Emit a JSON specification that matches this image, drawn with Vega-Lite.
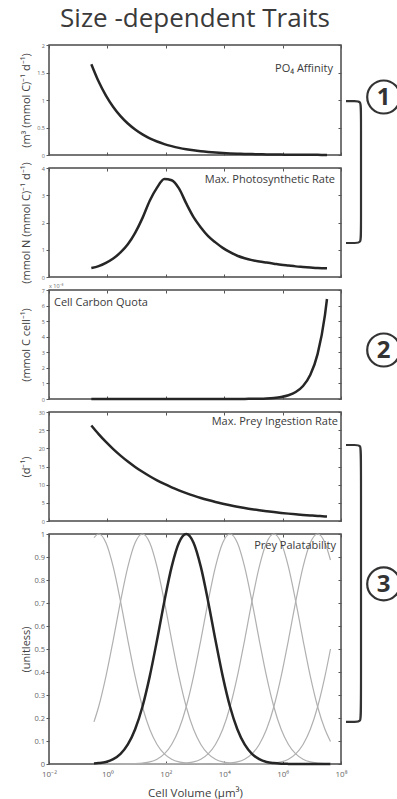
{
"$schema": "https://vega.github.io/schema/vega-lite/v6.json",
"padding": {"left": 19, "top": 6, "right": 0, "bottom": 0},
"background": "white",
"title": {"text": "Size -dependent Traits", "font": "Open Sans", "fontSize": 26, "fontWeight": "normal", "color": "#3a3a3a", "anchor": "middle", "frame": "group", "offset": 10},
"spacing": 13,
"bounds": "flush",
"datasets": {
"curves": [
{"v":0.2818,"a":1.65,"m":0.33,"q":0,"g":26.3},
{"v":0.5012,"a":1.335,"m":0.4,"q":0,"g":23.92},
{"v":0.8913,"a":1.08,"m":0.52,"q":0,"g":21.76},
{"v":1.585,"a":0.874,"m":0.68,"q":0,"g":19.79},
{"v":2.818,"a":0.707,"m":0.9,"q":0,"g":18.0},
{"v":5.012,"a":0.572,"m":1.2,"q":0,"g":16.37},
{"v":8.913,"a":0.463,"m":1.62,"q":0,"g":14.89},
{"v":15.85,"a":0.375,"m":2.16,"q":0,"g":13.54},
{"v":28.18,"a":0.303,"m":2.8,"q":0,"g":12.31},
{"v":50.12,"a":0.245,"m":3.28,"q":0,"g":11.2},
{"v":89.13,"a":0.198,"m":3.6,"q":0,"g":10.19},
{"v":158.5,"a":0.161,"m":3.55,"q":0,"g":9.26},
{"v":281.8,"a":0.13,"m":3.25,"q":0,"g":8.43},
{"v":501.2,"a":0.105,"m":2.7,"q":0,"g":7.66},
{"v":891.3,"a":0.085,"m":2.2,"q":0.0001,"g":6.97},
{"v":1585,"a":0.069,"m":1.82,"q":0.0002,"g":6.34},
{"v":2818,"a":0.056,"m":1.5,"q":0.0003,"g":5.77},
{"v":5012,"a":0.045,"m":1.27,"q":0.0005,"g":5.24},
{"v":8913,"a":0.036,"m":1.07,"q":0.0009,"g":4.77},
{"v":15849,"a":0.029,"m":0.91,"q":0.0017,"g":4.34},
{"v":28184,"a":0.024,"m":0.78,"q":0.0031,"g":3.95},
{"v":50119,"a":0.019,"m":0.69,"q":0.0058,"g":3.59},
{"v":89125,"a":0.016,"m":0.62,"q":0.0108,"g":3.26},
{"v":158489,"a":0.013,"m":0.57,"q":0.02,"g":2.97},
{"v":281838,"a":0.01,"m":0.53,"q":0.0373,"g":2.7},
{"v":501187,"a":0.008,"m":0.49,"q":0.0695,"g":2.45},
{"v":891251,"a":0.007,"m":0.45,"q":0.1294,"g":2.23},
{"v":1584893,"a":0.005,"m":0.42,"q":0.2409,"g":2.03},
{"v":2818383,"a":0.004,"m":0.39,"q":0.4485,"g":1.85},
{"v":5011872,"a":0.0035,"m":0.37,"q":0.835,"g":1.68},
{"v":8912509,"a":0.0028,"m":0.35,"q":1.555,"g":1.53},
{"v":15848932,"a":0.0023,"m":0.33,"q":2.895,"g":1.39},
{"v":28183829,"a":0.0019,"m":0.32,"q":5.39,"g":1.26},
{"v":33113112,"a":0.0017,"m":0.32,"q":6.42,"g":1.23}
],
"pal": [
{"c":"c0","v":0.3467,"p":0.984},{"c":"c0","v":0.5012,"p":1},{"c":"c0","v":0.8913,"p":0.962},{"c":"c0","v":1.585,"p":0.857},{"c":"c0","v":2.818,"p":0.707},{"c":"c0","v":5.012,"p":0.539},{"c":"c0","v":8.913,"p":0.381},{"c":"c0","v":15.85,"p":0.249},{"c":"c0","v":28.18,"p":0.151},{"c":"c0","v":50.12,"p":0.085},{"c":"c0","v":89.13,"p":0.044},{"c":"c0","v":158.5,"p":0.021},{"c":"c0","v":281.8,"p":0.009},{"c":"c0","v":501.2,"p":0.004},{"c":"c0","v":891.3,"p":0.0015},{"c":"c0","v":1585,"p":0.0005},{"c":"c0","v":2818,"p":0},{"c":"c0","v":43651583,"p":0},
{"c":"c1","v":0.3467,"p":0.183},{"c":"c1","v":0.5012,"p":0.249},{"c":"c1","v":0.8913,"p":0.381},{"c":"c1","v":1.585,"p":0.539},{"c":"c1","v":2.818,"p":0.707},{"c":"c1","v":5.012,"p":0.857},{"c":"c1","v":8.913,"p":0.962},{"c":"c1","v":15.85,"p":1},{"c":"c1","v":28.18,"p":0.962},{"c":"c1","v":50.12,"p":0.857},{"c":"c1","v":89.13,"p":0.707},{"c":"c1","v":158.5,"p":0.539},{"c":"c1","v":281.8,"p":0.381},{"c":"c1","v":501.2,"p":0.249},{"c":"c1","v":891.3,"p":0.151},{"c":"c1","v":1585,"p":0.085},{"c":"c1","v":2818,"p":0.044},{"c":"c1","v":5012,"p":0.021},{"c":"c1","v":8913,"p":0.009},{"c":"c1","v":15849,"p":0.004},{"c":"c1","v":28184,"p":0.0015},{"c":"c1","v":50119,"p":0.0005},{"c":"c1","v":89125,"p":0},{"c":"c1","v":43651583,"p":0},
{"c":"c3","v":0.3467,"p":0},{"c":"c3","v":2.818,"p":0},{"c":"c3","v":5.012,"p":0.0005},{"c":"c3","v":8.913,"p":0.0015},{"c":"c3","v":15.85,"p":0.004},{"c":"c3","v":28.18,"p":0.009},{"c":"c3","v":50.12,"p":0.021},{"c":"c3","v":89.13,"p":0.044},{"c":"c3","v":158.5,"p":0.085},{"c":"c3","v":281.8,"p":0.151},{"c":"c3","v":501.2,"p":0.249},{"c":"c3","v":891.3,"p":0.381},{"c":"c3","v":1585,"p":0.539},{"c":"c3","v":2818,"p":0.707},{"c":"c3","v":5012,"p":0.857},{"c":"c3","v":8913,"p":0.962},{"c":"c3","v":15849,"p":1},{"c":"c3","v":28184,"p":0.962},{"c":"c3","v":50119,"p":0.857},{"c":"c3","v":89125,"p":0.707},{"c":"c3","v":158489,"p":0.539},{"c":"c3","v":281838,"p":0.381},{"c":"c3","v":501187,"p":0.249},{"c":"c3","v":891251,"p":0.151},{"c":"c3","v":1584893,"p":0.085},{"c":"c3","v":2818383,"p":0.044},{"c":"c3","v":5011872,"p":0.021},{"c":"c3","v":8912509,"p":0.009},{"c":"c3","v":15848932,"p":0.004},{"c":"c3","v":28183829,"p":0.0015},{"c":"c3","v":43651583,"p":0.0007},
{"c":"c4","v":0.3467,"p":0},{"c":"c4","v":89.13,"p":0},{"c":"c4","v":158.5,"p":0.0005},{"c":"c4","v":281.8,"p":0.0015},{"c":"c4","v":501.2,"p":0.004},{"c":"c4","v":891.3,"p":0.009},{"c":"c4","v":1585,"p":0.021},{"c":"c4","v":2818,"p":0.044},{"c":"c4","v":5012,"p":0.085},{"c":"c4","v":8913,"p":0.151},{"c":"c4","v":15849,"p":0.249},{"c":"c4","v":28184,"p":0.381},{"c":"c4","v":50119,"p":0.539},{"c":"c4","v":89125,"p":0.707},{"c":"c4","v":158489,"p":0.857},{"c":"c4","v":281838,"p":0.962},{"c":"c4","v":501187,"p":1},{"c":"c4","v":891251,"p":0.962},{"c":"c4","v":1584893,"p":0.857},{"c":"c4","v":2818383,"p":0.707},{"c":"c4","v":5011872,"p":0.539},{"c":"c4","v":8912509,"p":0.381},{"c":"c4","v":15848932,"p":0.249},{"c":"c4","v":28183829,"p":0.151},{"c":"c4","v":43651583,"p":0.098},
{"c":"c5","v":0.3467,"p":0},{"c":"c5","v":2818,"p":0},{"c":"c5","v":5012,"p":0.0005},{"c":"c5","v":8913,"p":0.0015},{"c":"c5","v":15849,"p":0.004},{"c":"c5","v":28184,"p":0.009},{"c":"c5","v":50119,"p":0.021},{"c":"c5","v":89125,"p":0.044},{"c":"c5","v":158489,"p":0.085},{"c":"c5","v":281838,"p":0.151},{"c":"c5","v":501187,"p":0.249},{"c":"c5","v":891251,"p":0.381},{"c":"c5","v":1584893,"p":0.539},{"c":"c5","v":2818383,"p":0.707},{"c":"c5","v":5011872,"p":0.857},{"c":"c5","v":8912509,"p":0.962},{"c":"c5","v":15848932,"p":1},{"c":"c5","v":28183829,"p":0.962},{"c":"c5","v":43651583,"p":0.887},
{"c":"c6","v":0.3467,"p":0},{"c":"c6","v":89125,"p":0},{"c":"c6","v":158489,"p":0.0005},{"c":"c6","v":281838,"p":0.0015},{"c":"c6","v":501187,"p":0.004},{"c":"c6","v":891251,"p":0.009},{"c":"c6","v":1584893,"p":0.021},{"c":"c6","v":2818383,"p":0.044},{"c":"c6","v":5011872,"p":0.085},{"c":"c6","v":8912509,"p":0.151},{"c":"c6","v":15848932,"p":0.249},{"c":"c6","v":28183829,"p":0.381},{"c":"c6","v":43651583,"p":0.5}
],
"palk": [
{"v":0.3467,"p":0.002},{"v":0.5012,"p":0.004},{"v":0.8913,"p":0.009},{"v":1.585,"p":0.021},{"v":2.818,"p":0.044},{"v":5.012,"p":0.085},{"v":8.913,"p":0.151},{"v":15.85,"p":0.249},{"v":28.18,"p":0.381},{"v":50.12,"p":0.539},{"v":89.13,"p":0.707},{"v":158.5,"p":0.857},{"v":281.8,"p":0.962},{"v":501.2,"p":1},{"v":891.3,"p":0.962},{"v":1585,"p":0.857},{"v":2818,"p":0.707},{"v":5012,"p":0.539},{"v":8913,"p":0.381},{"v":15849,"p":0.249},{"v":28184,"p":0.151},{"v":50119,"p":0.085},{"v":89125,"p":0.044},{"v":158489,"p":0.021},{"v":281838,"p":0.009},{"v":501187,"p":0.004},{"v":891251,"p":0.0015},{"v":1584893,"p":0.0005},{"v":2818383,"p":0},{"v":43651583,"p":0}
]
},
"vconcat": [
{
"width": 292, "height": 110,
"layer": [
{"data": {"name": "curves"}, "mark": {"type": "line", "color": "#262626", "strokeWidth": 2.5, "interpolate": "monotone"},
 "encoding": {
  "x": {"field": "v", "type": "quantitative", "scale": {"type": "log", "domain": [0.01, 100000000]}, "axis": {"orient": "bottom", "values": [0.01, 1, 100, 10000, 1000000, 100000000], "labels": false, "title": null}},
  "y": {"field": "a", "type": "quantitative", "scale": {"domain": [0, 2], "nice": false, "zero": false}, "axis": {"orient": "left", "values": [0, 0.5, 1, 1.5, 2], "format": "~g", "labelFontSize": 5.5, "title": "(m³ (mmol C)⁻¹ d⁻¹)", "titleX": -18}}
 }},
{"data": {"values": [{"v": 53200000, "y": 1.564, "t": "PO₄ Affinity"}]}, "mark": {"type": "text", "align": "right", "baseline": "middle", "fontSize": 11, "color": "#3a3a3a", "font": "Open Sans"},
 "encoding": {
  "x": {"field": "v", "type": "quantitative", "scale": {"type": "log", "domain": [0.01, 100000000]}, "axis": {"orient": "top", "values": [0.01, 1, 100, 10000, 1000000, 100000000], "labels": false, "title": null}},
  "y": {"field": "y", "type": "quantitative", "scale": {"domain": [0, 2], "nice": false, "zero": false}, "axis": {"orient": "right", "values": [0, 0.5, 1, 1.5, 2], "labels": false, "title": null}},
  "text": {"field": "t"}
 }},
{"data": {"values": [{"o":1,"v":148300000,"y":0.98},{"o":2,"v":301300000,"y":0.98},{"o":3,"v":484200000,"y":0.98},{"o":4,"v":484200000,"y":0.816},{"o":5,"v":484200000,"y":-1.436},{"o":6,"v":484200000,"y":-1.6},{"o":7,"v":301300000,"y":-1.6},{"o":8,"v":148300000,"y":-1.6}]},
 "mark": {"type": "line", "interpolate": "basis", "color": "#333333", "strokeWidth": 2.2},
 "encoding": {
  "x": {"field": "v", "type": "quantitative", "scale": {"type": "log", "domain": [0.01, 100000000]}, "axis": null},
  "y": {"field": "y", "type": "quantitative", "scale": {"domain": [0, 2], "nice": false, "zero": false}, "axis": null},
  "order": {"field": "o"}
 }},
{"data": {"values": [{"v": 2900000000, "y": 1.0545, "t": "1"}]},
 "mark": {"type": "point", "shape": "circle", "size": 1089, "filled": false, "color": "#333333", "strokeWidth": 2.2, "opacity": 1},
 "encoding": {
  "x": {"field": "v", "type": "quantitative", "scale": {"type": "log", "domain": [0.01, 100000000]}, "axis": null},
  "y": {"field": "y", "type": "quantitative", "scale": {"domain": [0, 2], "nice": false, "zero": false}, "axis": null}
 }},
{"data": {"values": [{"v": 2900000000, "y": 1.0545, "t": "1"}]},
 "mark": {"type": "text", "fontSize": 24, "fontWeight": "bold", "font": "Open Sans", "color": "#333333", "baseline": "middle", "align": "center", "dy": 1},
 "encoding": {
  "x": {"field": "v", "type": "quantitative", "scale": {"type": "log", "domain": [0.01, 100000000]}, "axis": null},
  "y": {"field": "y", "type": "quantitative", "scale": {"domain": [0, 2], "nice": false, "zero": false}, "axis": null},
  "text": {"field": "t"}
 }}
],
"resolve": {"axis": {"x": "independent", "y": "independent"}}
},
{
"width": 292, "height": 109,
"layer": [
{"data": {"name": "curves"}, "mark": {"type": "line", "color": "#262626", "strokeWidth": 2.5, "interpolate": "monotone"},
 "encoding": {
  "x": {"field": "v", "type": "quantitative", "scale": {"type": "log", "domain": [0.01, 100000000]}, "axis": {"orient": "bottom", "values": [0.01, 1, 100, 10000, 1000000, 100000000], "labels": false, "title": null}},
  "y": {"field": "m", "type": "quantitative", "scale": {"domain": [0, 4], "nice": false, "zero": false}, "axis": {"orient": "left", "values": [0, 1, 2, 3, 4], "format": "~g", "labelFontSize": 5.5, "title": "(mmol N (mmol C)⁻¹ d⁻¹)", "titleX": -18}}
 }},
{"data": {"values": [{"v": 62400000, "y": 3.56, "t": "Max. Photosynthetic Rate"}]}, "mark": {"type": "text", "align": "right", "baseline": "middle", "fontSize": 11, "color": "#3a3a3a", "font": "Open Sans"},
 "encoding": {
  "x": {"field": "v", "type": "quantitative", "scale": {"type": "log", "domain": [0.01, 100000000]}, "axis": {"orient": "top", "values": [0.01, 1, 100, 10000, 1000000, 100000000], "labels": false, "title": null}},
  "y": {"field": "y", "type": "quantitative", "scale": {"domain": [0, 4], "nice": false, "zero": false}, "axis": {"orient": "right", "values": [0, 1, 2, 3, 4], "labels": false, "title": null}},
  "text": {"field": "t"}
 }}
],
"resolve": {"axis": {"x": "independent", "y": "independent"}}
},
{
"width": 292, "height": 109,
"layer": [
{"data": {"name": "curves"}, "mark": {"type": "line", "color": "#262626", "strokeWidth": 2.5, "interpolate": "monotone"},
 "encoding": {
  "x": {"field": "v", "type": "quantitative", "scale": {"type": "log", "domain": [0.01, 100000000]}, "axis": {"orient": "bottom", "values": [0.01, 1, 100, 10000, 1000000, 100000000], "labels": false, "title": null}},
  "y": {"field": "q", "type": "quantitative", "scale": {"domain": [0, 7], "nice": false, "zero": false}, "axis": {"orient": "left", "values": [0, 1, 2, 3, 4, 5, 6, 7], "format": "~g", "labelFontSize": 5.5, "title": "(mmol C cell⁻¹)", "titleX": -18}}
 }},
{"data": {"values": [{"v": 0.0148, "y": 6.165, "t": "Cell Carbon Quota"}]}, "mark": {"type": "text", "align": "left", "baseline": "middle", "fontSize": 11, "color": "#3a3a3a", "font": "Open Sans"},
 "encoding": {
  "x": {"field": "v", "type": "quantitative", "scale": {"type": "log", "domain": [0.01, 100000000]}, "axis": {"orient": "top", "values": [0.01, 1, 100, 10000, 1000000, 100000000], "labels": false, "title": null}},
  "y": {"field": "y", "type": "quantitative", "scale": {"domain": [0, 7], "nice": false, "zero": false}, "axis": {"orient": "right", "values": [0, 1, 2, 3, 4, 5, 6, 7], "labels": false, "title": null}},
  "text": {"field": "t"}
 }},
{"data": {"values": [{"v": 0.01, "y": 7, "t": "x 10⁻³"}]}, "mark": {"type": "text", "align": "left", "baseline": "bottom", "fontSize": 5.5, "color": "#666666", "dy": -1},
 "encoding": {
  "x": {"field": "v", "type": "quantitative", "scale": {"type": "log", "domain": [0.01, 100000000]}, "axis": null},
  "y": {"field": "y", "type": "quantitative", "scale": {"domain": [0, 7], "nice": false, "zero": false}, "axis": null},
  "text": {"field": "t"}
 }},
{"data": {"values": [{"v": 2900000000, "y": 3.147, "t": "2"}]},
 "mark": {"type": "point", "shape": "circle", "size": 1089, "filled": false, "color": "#333333", "strokeWidth": 2.2, "opacity": 1},
 "encoding": {
  "x": {"field": "v", "type": "quantitative", "scale": {"type": "log", "domain": [0.01, 100000000]}, "axis": null},
  "y": {"field": "y", "type": "quantitative", "scale": {"domain": [0, 7], "nice": false, "zero": false}, "axis": null}
 }},
{"data": {"values": [{"v": 2900000000, "y": 3.147, "t": "2"}]},
 "mark": {"type": "text", "fontSize": 24, "fontWeight": "bold", "font": "Open Sans", "color": "#333333", "baseline": "middle", "align": "center", "dy": 1},
 "encoding": {
  "x": {"field": "v", "type": "quantitative", "scale": {"type": "log", "domain": [0.01, 100000000]}, "axis": null},
  "y": {"field": "y", "type": "quantitative", "scale": {"domain": [0, 7], "nice": false, "zero": false}, "axis": null},
  "text": {"field": "t"}
 }}
],
"resolve": {"axis": {"x": "independent", "y": "independent"}}
},
{
"width": 292, "height": 109,
"layer": [
{"data": {"name": "curves"}, "mark": {"type": "line", "color": "#262626", "strokeWidth": 2.5, "interpolate": "monotone"},
 "encoding": {
  "x": {"field": "v", "type": "quantitative", "scale": {"type": "log", "domain": [0.01, 100000000]}, "axis": {"orient": "bottom", "values": [0.01, 1, 100, 10000, 1000000, 100000000], "labels": false, "title": null}},
  "y": {"field": "g", "type": "quantitative", "scale": {"domain": [0, 30], "nice": false, "zero": false}, "axis": {"orient": "left", "values": [0, 5, 10, 15, 20, 25, 30], "format": "~g", "labelFontSize": 5.5, "title": "(d⁻¹)", "titleX": -18}}
 }},
{"data": {"values": [{"v": 79000000, "y": 27.3, "t": "Max. Prey Ingestion Rate"}]}, "mark": {"type": "text", "align": "right", "baseline": "middle", "fontSize": 11, "color": "#3a3a3a", "font": "Open Sans"},
 "encoding": {
  "x": {"field": "v", "type": "quantitative", "scale": {"type": "log", "domain": [0.01, 100000000]}, "axis": {"orient": "top", "values": [0.01, 1, 100, 10000, 1000000, 100000000], "labels": false, "title": null}},
  "y": {"field": "y", "type": "quantitative", "scale": {"domain": [0, 30], "nice": false, "zero": false}, "axis": {"orient": "right", "values": [0, 5, 10, 15, 20, 25, 30], "labels": false, "title": null}},
  "text": {"field": "t"}
 }}
],
"resolve": {"axis": {"x": "independent", "y": "independent"}}
},
{
"width": 292, "height": 230,
"layer": [
{"data": {"name": "pal"}, "mark": {"type": "line", "color": "#b0b0b0", "strokeWidth": 1.2, "interpolate": "monotone"},
 "encoding": {
  "x": {"field": "v", "type": "quantitative", "scale": {"type": "log", "domain": [0.01, 100000000]}, "axis": {"orient": "bottom", "values": [0.01, 1, 100, 10000, 1000000, 100000000], "labelFontSize": 8, "labelFlush": false, "labelOverlap": false, "labelPadding": 9, "labelExpr": "datum.value < 0.1 ? '10⁻²' : datum.value < 10 ? '10⁰' : datum.value < 1000 ? '10²' : datum.value < 100000 ? '10⁴' : datum.value < 10000000 ? '10⁶' : '10⁸'", "title": "Cell Volume (µm³)", "titleFontSize": 11.5, "titlePadding": 9}},
  "y": {"field": "p", "type": "quantitative", "scale": {"domain": [0, 1], "nice": false, "zero": false}, "axis": {"orient": "left", "values": [0, 0.1, 0.2, 0.3, 0.4, 0.5, 0.6, 0.7, 0.8, 0.9, 1], "format": "~g", "labelFontSize": 7.5, "title": "(unitless)", "titleX": -18}},
  "detail": {"field": "c"}
 }},
{"data": {"name": "palk"}, "mark": {"type": "line", "color": "#262626", "strokeWidth": 2.5, "interpolate": "monotone"},
 "encoding": {
  "x": {"field": "v", "type": "quantitative", "scale": {"type": "log", "domain": [0.01, 100000000]}, "axis": {"orient": "top", "values": [0.01, 1, 100, 10000, 1000000, 100000000], "labels": false, "title": null}},
  "y": {"field": "p", "type": "quantitative", "scale": {"domain": [0, 1], "nice": false, "zero": false}, "axis": {"orient": "right", "values": [0, 0.1, 0.2, 0.3, 0.4, 0.5, 0.6, 0.7, 0.8, 0.9, 1], "labels": false, "title": null}}
 }},
{"data": {"values": [{"v": 67500000, "y": 0.948, "t": "Prey Palatability"}]}, "mark": {"type": "text", "align": "right", "baseline": "middle", "fontSize": 11, "color": "#3a3a3a", "font": "Open Sans"},
 "encoding": {
  "x": {"field": "v", "type": "quantitative", "scale": {"type": "log", "domain": [0.01, 100000000]}, "axis": null},
  "y": {"field": "y", "type": "quantitative", "scale": {"domain": [0, 1], "nice": false, "zero": false}, "axis": null},
  "text": {"field": "t"}
 }},
{"data": {"values": [{"o":1,"v":148300000,"y":1.387},{"o":2,"v":301300000,"y":1.387},{"o":3,"v":484200000,"y":1.387},{"o":4,"v":484200000,"y":1.348},{"o":5,"v":484200000,"y":0.222},{"o":6,"v":484200000,"y":0.183},{"o":7,"v":301300000,"y":0.183},{"o":8,"v":148300000,"y":0.183}]},
 "mark": {"type": "line", "interpolate": "basis", "color": "#333333", "strokeWidth": 2.2},
 "encoding": {
  "x": {"field": "v", "type": "quantitative", "scale": {"type": "log", "domain": [0.01, 100000000]}, "axis": null},
  "y": {"field": "y", "type": "quantitative", "scale": {"domain": [0, 1], "nice": false, "zero": false}, "axis": null},
  "order": {"field": "o"}
 }},
{"data": {"values": [{"v": 2900000000, "y": 0.783, "t": "3"}]},
 "mark": {"type": "point", "shape": "circle", "size": 1089, "filled": false, "color": "#333333", "strokeWidth": 2.2, "opacity": 1},
 "encoding": {
  "x": {"field": "v", "type": "quantitative", "scale": {"type": "log", "domain": [0.01, 100000000]}, "axis": null},
  "y": {"field": "y", "type": "quantitative", "scale": {"domain": [0, 1], "nice": false, "zero": false}, "axis": null}
 }},
{"data": {"values": [{"v": 2900000000, "y": 0.783, "t": "3"}]},
 "mark": {"type": "text", "fontSize": 24, "fontWeight": "bold", "font": "Open Sans", "color": "#333333", "baseline": "middle", "align": "center", "dy": 1},
 "encoding": {
  "x": {"field": "v", "type": "quantitative", "scale": {"type": "log", "domain": [0.01, 100000000]}, "axis": null},
  "y": {"field": "y", "type": "quantitative", "scale": {"domain": [0, 1], "nice": false, "zero": false}, "axis": null},
  "text": {"field": "t"}
 }}
],
"resolve": {"axis": {"x": "independent", "y": "independent"}}
}
],
"config": {
 "view": {"stroke": "#4a4a4a", "strokeWidth": 1.5},
 "font": "Open Sans",
 "axis": {"domain": false, "grid": false, "tickColor": "#555555", "tickWidth": 1, "labelColor": "#666666", "labelFont": "Open Sans", "titleFont": "Open Sans", "titleFontWeight": "normal", "titleColor": "#404040", "titleFontSize": 11},
 "axisLeft": {"tickSize": 3, "labelPadding": 1.5},
 "axisRight": {"tickSize": -3},
 "axisTop": {"tickSize": -3},
 "axisBottom": {"tickSize": -3}
}
}
